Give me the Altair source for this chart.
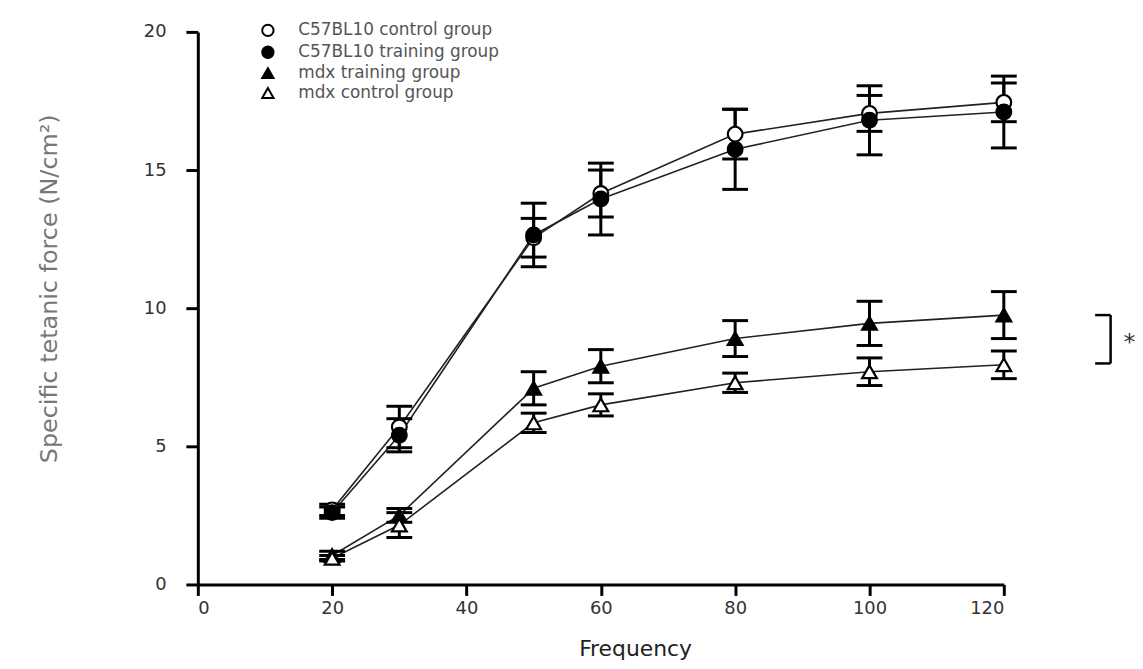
import altair as alt
import pandas as pd

freq = [20, 30, 50, 60, 80, 100, 120]
groups = ["C57BL10 control group", "C57BL10 training group", "mdx training group", "mdx control group"]

c57_ctrl = [2.7, 5.7, 12.55, 14.15, 16.3, 17.05, 17.45]
c57_ctrl_err = [0.2, 0.75, 0.7, 0.85, 0.9, 0.65, 0.7]
c57_train = [2.6, 5.4, 12.65, 13.95, 15.75, 16.8, 17.1]
c57_train_err = [0.2, 0.6, 1.15, 1.3, 1.45, 1.25, 1.3]
mdx_train = [1.05, 2.5, 7.1, 7.9, 8.9, 9.45, 9.75]
mdx_train_err = [0.15, 0.25, 0.6, 0.6, 0.65, 0.8, 0.85]
mdx_ctrl = [0.95, 2.15, 5.85, 6.5, 7.3, 7.7, 7.95]
mdx_ctrl_err = [0.1, 0.45, 0.35, 0.4, 0.35, 0.5, 0.5]

x_ticks = [0, 20, 40, 60, 80, 100, 120]
y_ticks = [0, 5, 10, 15, 20]

# significance bracket (between mdx groups at 120 Hz)
bracket_x = [133.6, 135.9]
bracket_y = [9.75, 8.0]
star_x = 138.7
star_label = "*"

rows = []
for g, vals, errs in zip(groups,
                         [c57_ctrl, c57_train, mdx_train, mdx_ctrl],
                         [c57_ctrl_err, c57_train_err, mdx_train_err, mdx_ctrl_err]):
    for f, v, e in zip(freq, vals, errs):
        rows.append({"freq": f, "value": v, "lo": v - e, "hi": v + e, "group": g})
df = pd.DataFrame(rows)

FONT = "DejaVu Sans"

xs = alt.Scale(domain=[0, 120], nice=False)
ys = alt.Scale(domain=[0, 20], nice=False)

x_enc = alt.X("freq:Q", scale=xs,
              axis=alt.Axis(values=x_ticks, title="Frequency", titleFontSize=22,
                            titleColor="#222", titleFontWeight="normal", titlePadding=21,
                            titleX=440,
                            labelFontSize=18, labelColor="#333", labelPadding=4,
                            grid=False, tickSize=11))
y_enc = alt.Y("value:Q", scale=ys,
              axis=alt.Axis(values=y_ticks, title="Specific tetanic force (N/cm²)",
                            titleFontSize=24, titleColor="#777", titleFontWeight="normal",
                            titlePadding=82, titleY=258,
                            labelFontSize=18, labelColor="#333",
                            labelPadding=20, grid=False, tickSize=12))

base = alt.Chart(df)

lines = base.mark_line(color="#222", strokeWidth=1.6).encode(
    x=x_enc, y=y_enc, detail="group:N")

err = base.mark_rule(color="black", strokeWidth=3, opacity=1).encode(
    x="freq:Q", y="lo:Q", y2="hi:Q")

cap_lo = base.mark_tick(orient="horizontal", color="black", thickness=3, size=26,
                        opacity=1).encode(x="freq:Q", y="lo:Q")
cap_hi = base.mark_tick(orient="horizontal", color="black", thickness=3, size=26,
                        opacity=1).encode(x="freq:Q", y="hi:Q")

legend = alt.Legend(title=None, orient="none", legendX=62, legendY=-10,
                    labelFont=FONT, labelFontSize=17, labelColor="#555", labelLimit=0,
                    symbolSize=130, symbolStrokeColor="black", symbolStrokeWidth=2,
                    labelOffset=22, rowPadding=1)

points = base.mark_point(filled=False, size=220, strokeWidth=2.2, opacity=1).encode(
    x="freq:Q", y="value:Q",
    shape=alt.Shape("group:N", scale=alt.Scale(domain=groups,
                    range=["circle", "circle", "triangle-up", "triangle-up"]),
                    sort=groups, legend=legend),
    fill=alt.Fill("group:N", scale=alt.Scale(domain=groups,
                  range=["white", "black", "black", "white"]),
                  sort=groups, legend=legend),
    stroke=alt.Stroke("group:N", scale=alt.Scale(domain=groups,
                      range=["black", "black", "black", "black"]),
                      sort=groups, legend=legend),
)

bdf = pd.DataFrame({"x1": [bracket_x[0], bracket_x[1], bracket_x[0]],
                    "x2": [bracket_x[1], bracket_x[1], bracket_x[1]],
                    "y1": [bracket_y[0], bracket_y[0], bracket_y[1]],
                    "y2": [bracket_y[0], bracket_y[1], bracket_y[1]]})
bracket = alt.Chart(bdf).mark_rule(color="black", strokeWidth=2.5).encode(
    x=alt.X("x1:Q", scale=xs), x2="x2:Q", y=alt.Y("y1:Q", scale=ys), y2="y2:Q")

sdf = pd.DataFrame({"x": [star_x], "y": [(bracket_y[0] + bracket_y[1]) / 2], "t": [star_label]})
star = alt.Chart(sdf).mark_text(fontSize=24, font=FONT, color="#333", align="center",
                                baseline="middle", dy=4).encode(
    x=alt.X("x:Q", scale=xs), y=alt.Y("y:Q", scale=ys), text="t:N")

chart = alt.layer(lines, err, cap_lo, cap_hi, points, bracket, star).properties(
    width=811, height=556,
    autosize=alt.AutoSizeParams(type="none"),
    padding={"left": 191, "top": 22, "right": 132, "bottom": 80},
).configure(background="white").configure_view(stroke=None).configure_axis(
    domainColor="black", domainWidth=3, tickColor="black", tickWidth=3,
    grid=False, labelFont=FONT, titleFont=FONT
)

chart.save("out.html", embed_options={"renderer": "svg", "actions": False})
